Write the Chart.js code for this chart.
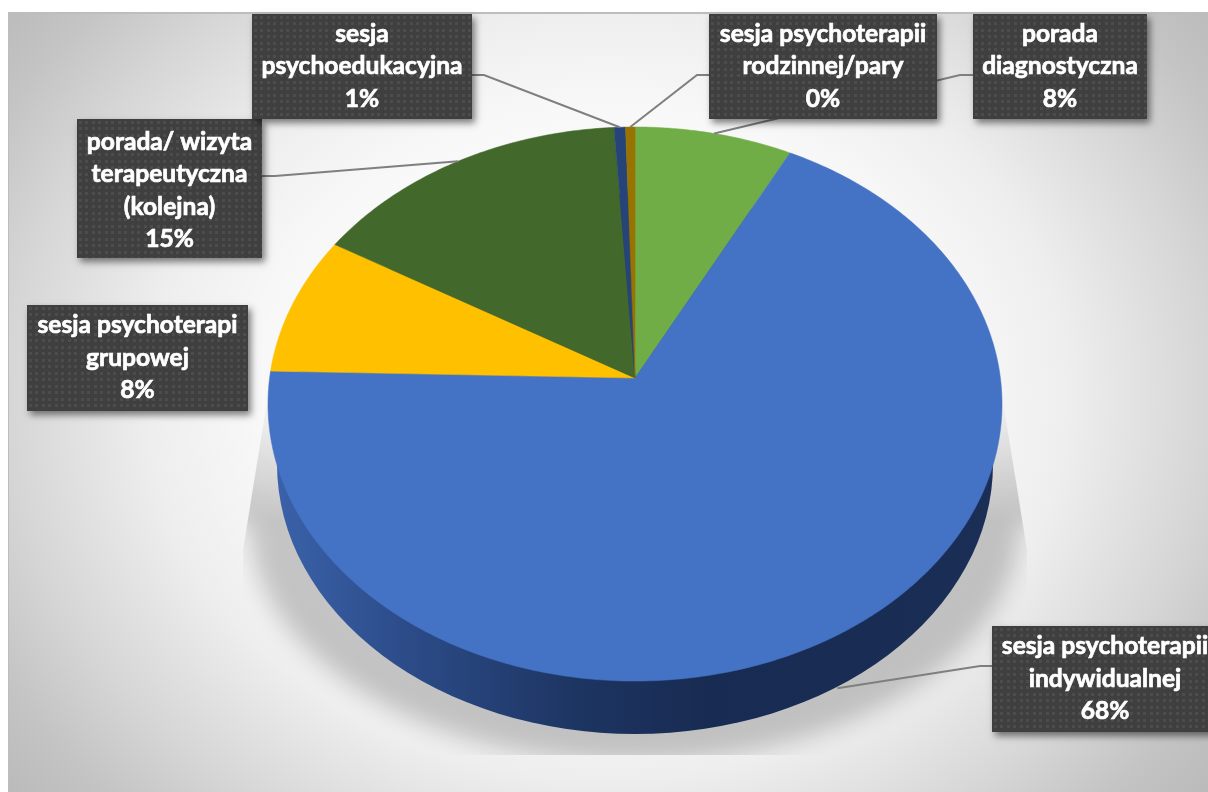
<!DOCTYPE html>
<html>
<head>
<meta charset="utf-8">
<style>
  html, body { margin: 0; padding: 0; background: #fff; overflow: hidden; }
  canvas { display: block; }
</style>
<script src="https://cdn.jsdelivr.net/npm/chart.js@4"></script>
</head>
<body>
<canvas id="chart" width="1208" height="792"></canvas>
<script>
// kolejnosc zgodnie z ruchem wskazowek, od gory
const categories = ['porada diagnostyczna', 'sesja psychoterapii indywidualnej', 'sesja psychoterapi grupowej',
    'porada/ wizyta terapeutyczna (kolejna)', 'sesja psychoedukacyjna', 'sesja psychoterapii rodzinnej/pary'];
const values = [7.6, 67.8, 8.1, 15.5, 0.55, 0.45];
const percentLabels = ['8%', '68%', '8%', '15%', '1%', '0%'];
const sliceColors = ['#70ad47', '#4472c4', '#ffc000', '#43682b', '#264478', '#997300'];

const labelLines = [
    ['porada', 'diagnostyczna'],
    ['sesja psychoterapii', 'indywidualnej'],
    ['sesja psychoterapi', 'grupowej'],
    ['porada/ wizyta', 'terapeutyczna', '(kolejna)'],
    ['sesja', 'psychoedukacyjna'],
    ['sesja psychoterapii', 'rodzinnej/pary']
];
const labelBoxes = [
    { x: 973, y: 14, w: 174, h: 105, elbow: [960, 75], from: [973, 75] },
    { x: 992, y: 626, w: 226, h: 106, elbow: [980, 666], from: [992, 666] },
    { x: 27, y: 305, w: 221, h: 106 },
    { x: 77, y: 119, w: 185, h: 139, elbow: [275, 176], from: [262, 176] },
    { x: 252, y: 14, w: 220, h: 105, elbow: [484, 75], from: [472, 75] },
    { x: 709, y: 14, w: 228, h: 105, elbow: [697, 75], from: [709, 75] }
];

// rzut perspektywiczny kola na elipse (wierzcholek nie jest w srodku elipsy)
const pie = { cx: 635, cy: 378, a: 365.4, b: 274.6, k: 0.0939 };
const base = { cx: 635, cy: 464, rx: 358, ry: 270 };
const depth = 53;

function project(angle) {
    const x = Math.cos(angle), y = Math.sin(angle);
    const w = 1 - pie.k * y;
    return [pie.cx + pie.a * x / w, pie.cy + pie.b * y / w];
}

function dotPattern(ctx) {
    const c = document.createElement('canvas');
    c.width = 13; c.height = 13;
    const p = c.getContext('2d');
    p.fillStyle = '#3f3f3f';
    p.fillRect(0, 0, 13, 13);
    p.fillStyle = '#4c4c4c';
    [[2, 2], [8, 2], [2, 8], [8, 8]].forEach(d => p.fillRect(d[0], d[1], 3, 3));
    return ctx.createPattern(c, 'repeat');
}

function drawBackground(ctx) {
    ctx.save();
    ctx.fillStyle = '#fff';
    ctx.fillRect(0, 0, 1208, 792);
    ctx.beginPath();
    ctx.rect(8, 13, 1200, 779);
    ctx.clip();
    ctx.translate(608, 395);
    ctx.scale(1.2, 1);
    const g = ctx.createRadialGradient(0, 0, 0, 0, 0, 640);
    g.addColorStop(0, '#ffffff');
    g.addColorStop(0.45, '#f8f8f8');
    g.addColorStop(0.6, '#eeeeee');
    g.addColorStop(0.78, '#d6d6d6');
    g.addColorStop(0.9, '#c4c4c4');
    g.addColorStop(1, '#bababa');
    ctx.fillStyle = g;
    ctx.fillRect(-520, -400, 1040, 800);
    ctx.restore();
    ctx.fillStyle = '#bdbdbd';
    ctx.fillRect(8, 12, 1200, 2);
    ctx.fillRect(8, 12, 1, 780);
}

function drawShadow(ctx) {
    // cien na osobnej warstwie: rozmyta elipsa + klin u gory, zanikajacy ku gorze
    const layer = document.createElement('canvas');
    layer.width = 1208; layer.height = 792;
    const s = layer.getContext('2d');
    s.filter = 'blur(12px)';
    s.fillStyle = '#000';
    s.beginPath();
    s.ellipse(635, 522, 385, 240, 0, 0, Math.PI * 2);
    s.fill();
    s.fillRect(180, 360, 900, 162);
    s.filter = 'none';
    s.globalCompositeOperation = 'destination-in';
    const fade = s.createLinearGradient(0, 395, 0, 520);
    fade.addColorStop(0, 'rgba(0,0,0,0)');
    fade.addColorStop(1, 'rgba(0,0,0,1)');
    s.fillStyle = fade;
    s.fillRect(0, 0, 1208, 792);

    ctx.save();
    ctx.beginPath();
    ctx.moveTo(268, 395);
    ctx.lineTo(243, 550);
    ctx.lineTo(243, 755);
    ctx.lineTo(1027, 755);
    ctx.lineTo(1027, 550);
    ctx.lineTo(1002, 395);
    ctx.closePath();
    ctx.clip();
    ctx.globalAlpha = 0.2;
    ctx.drawImage(layer, 0, 0);
    ctx.restore();
}

function drawWall(ctx) {
    const g = ctx.createLinearGradient(268, 0, 1002, 0);
    g.addColorStop(0, '#3b63ac');
    g.addColorStop(0.2, '#2b4a86');
    g.addColorStop(0.42, '#1d3562');
    g.addColorStop(0.6, '#182b52');
    g.addColorStop(1, '#1a2e56');
    ctx.fillStyle = g;
    ctx.beginPath();
    ctx.ellipse(base.cx, base.cy, base.rx, base.ry, 0, 0, Math.PI * 2);
    ctx.fill();
}

function drawSlice(ctx, arc, color) {
    ctx.fillStyle = color;
    ctx.strokeStyle = color;
    ctx.lineWidth = 0.5;
    ctx.beginPath();
    ctx.moveTo(pie.cx, pie.cy);
    const steps = Math.max(2, Math.ceil((arc.endAngle - arc.startAngle) * 90));
    for (let i = 0; i <= steps; i++) {
        const p = project(arc.startAngle + (arc.endAngle - arc.startAngle) * i / steps);
        ctx.lineTo(p[0], p[1]);
    }
    ctx.closePath();
    ctx.fill();
    ctx.stroke();
}

function drawLeader(ctx, arc, box) {
    if (!box.elbow) return;
    const mid = (arc.startAngle + arc.endAngle) / 2;
    const p = project(mid);
    // przednia krawedz - linia konczy sie na dole sciany
    if (Math.sin(mid) > 0.5) p[1] += depth;
    ctx.strokeStyle = '#7f7f7f';
    ctx.lineWidth = 2;
    ctx.beginPath();
    ctx.moveTo(p[0], p[1]);
    ctx.lineTo(box.elbow[0], box.elbow[1]);
    ctx.lineTo(box.from[0], box.from[1]);
    ctx.stroke();
}

function drawLabel(ctx, box, lines, pattern) {
    ctx.save();
    ctx.shadowColor = 'rgba(0,0,0,0.5)';
    ctx.shadowBlur = 7;
    ctx.shadowOffsetX = 3;
    ctx.shadowOffsetY = 4;
    ctx.fillStyle = '#404040';
    ctx.fillRect(box.x, box.y, box.w, box.h);
    ctx.restore();
    ctx.save();
    ctx.translate(box.x, box.y);
    ctx.fillStyle = pattern;
    ctx.fillRect(0, 0, box.w, box.h);
    ctx.restore();
    ctx.fillStyle = '#ffffff';
    ctx.strokeStyle = '#ffffff';
    ctx.lineWidth = 0.7;
    ctx.font = 'bold 24.6px Lato, "Open Sans", sans-serif';
    ctx.textAlign = 'center';
    ctx.textBaseline = 'middle';
    const lh = 32.5;
    const top = box.y + box.h / 2 - (lines.length - 1) * lh / 2 + (lines.length > 3 ? 2 : 0);
    lines.forEach((t, i) => {
        ctx.fillText(t, box.x + box.w / 2, top + i * lh);
        ctx.strokeText(t, box.x + box.w / 2, top + i * lh);
    });
}

const pie3d = {
    id: 'pie3d',
    beforeDatasetDraw(chart, args) {
        const ctx = chart.ctx;
        const arcs = chart.getDatasetMeta(args.index).data;
        drawBackground(ctx);
        drawShadow(ctx);
        drawWall(ctx);
        arcs.forEach((arc, i) => drawSlice(ctx, arc, sliceColors[i]));
        arcs.forEach((arc, i) => drawLeader(ctx, arc, labelBoxes[i]));
        const pattern = dotPattern(ctx);
        arcs.forEach((arc, i) => drawLabel(ctx, labelBoxes[i], labelLines[i].concat(percentLabels[i]), pattern));
        return false;
    }
};

new Chart(document.getElementById('chart'), {
    type: 'pie',
    data: {
        labels: categories,
        datasets: [{ data: values, backgroundColor: sliceColors, borderWidth: 0 }]
    },
    options: {
        responsive: false,
        animation: false,
        events: [],
        plugins: { legend: { display: false }, tooltip: { enabled: false } }
    },
    plugins: [pie3d]
});
</script>
</body>
</html>
